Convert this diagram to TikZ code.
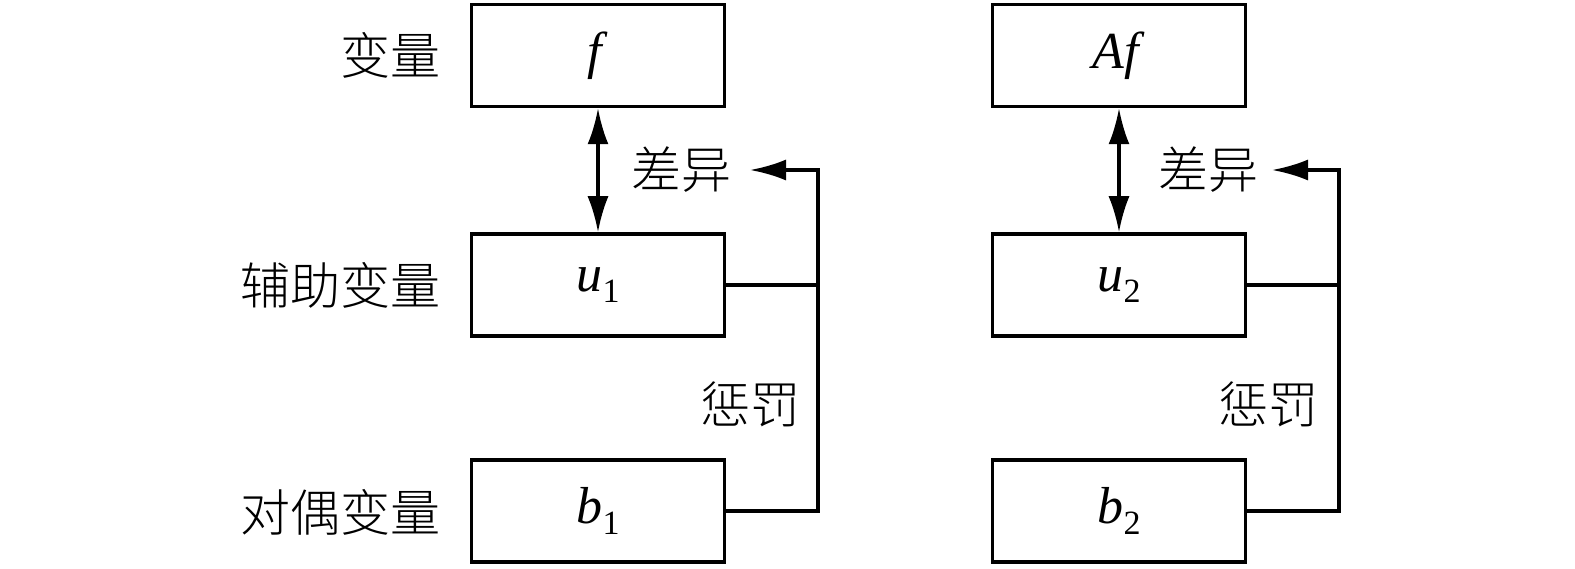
\documentclass[tikz,border=0pt]{standalone}
\usepackage{fontspec}
\setmainfont{Liberation Serif}[ItalicFont={Liberation Serif Italic}]
\newfontfamily\cjk{Noto Sans CJK SC Light}
\usetikzlibrary{arrows.meta}
\begin{document}
\begin{tikzpicture}[x=1pt,y=-1pt,
  box/.style={draw,line width=3.5pt,minimum width=253pt,minimum height=102pt,inner sep=0pt,font=\fontsize{52}{60}\selectfont},
  lbl/.style={inner sep=0pt,font=\cjk\fontsize{50}{60}\selectfont},
  conn/.style={line width=3.2pt},
  tip/.style={-{Latex[length=36pt,width=21pt]}},
  dtip/.style={{Latex[length=36pt,width=21pt]}-{Latex[length=36pt,width=21pt]}}]
\newcommand{\sub}[1]{\raisebox{-0.22em}{\fontsize{34}{40}\selectfont #1}}
\useasboundingbox (0,0) rectangle (1575,569);
% left block
\node[box] (f) at (598,55.5) {\textit{f}};
\node[box] (u1) at (598,285) {\textit{u}\sub{1}};
\node[box] (b1) at (598,511) {\textit{b}\sub{1}};
\node[lbl,anchor=east] (l1) at (441,55) {变量};
\node[lbl,anchor=east] (l2) at (441,285) {辅助变量};
\node[lbl,anchor=east] (l3) at (441,512) {对偶变量};
\node[lbl] (d1) at (681,170) {差异};
\node[lbl] (p1) at (750,404) {惩罚};
\coordinate (c1) at (818,170);
\coordinate (t1) at (750,170);
\draw[conn,dtip] (f.south) -- (u1.north);
\draw[conn] (u1.east) -- (u1.east -| c1);
\draw[conn,tip] (b1.east) -- (b1.east -| c1) -- (c1) -- (t1);
% right block
\node[box] (Af) at (1119,55.5) {\textit{Af}};
\node[box] (u2) at (1119,285) {\textit{u}\sub{2}};
\node[box] (b2) at (1119,511) {\textit{b}\sub{2}};
\node[lbl] (d2) at (1208,170) {差异};
\node[lbl] (p2) at (1268,404) {惩罚};
\coordinate (c2) at (1339,170);
\coordinate (t2) at (1272,170);
\draw[conn,dtip] (Af.south) -- (u2.north);
\draw[conn] (u2.east) -- (u2.east -| c2);
\draw[conn,tip] (b2.east) -- (b2.east -| c2) -- (c2) -- (t2);
\end{tikzpicture}
\end{document}
